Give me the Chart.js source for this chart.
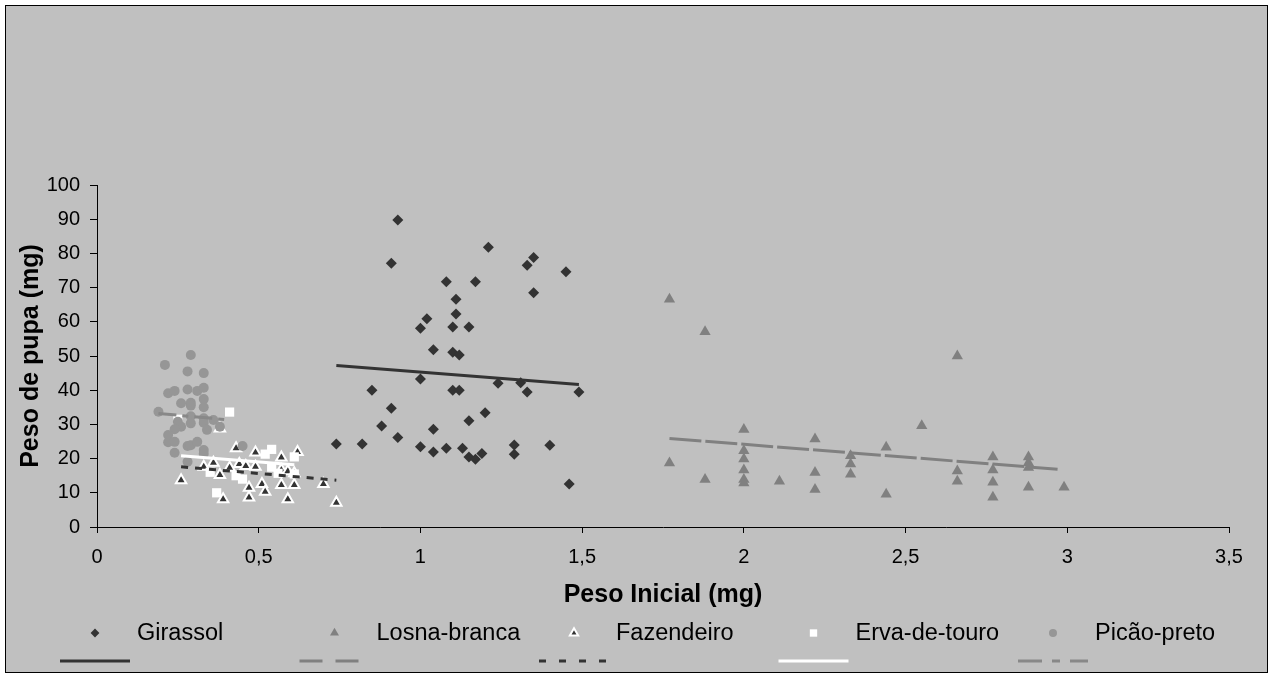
<!DOCTYPE html>
<html>
<head>
<meta charset="utf-8">
<title>Peso de pupa x Peso inicial</title>
<script src="https://cdn.jsdelivr.net/npm/chart.js@4/dist/chart.umd.min.js"></script>
<style>
  html, body { margin: 0; padding: 0; background: #fff; }
  canvas { display: block; }
</style>
</head>
<body>
<canvas id="chart" width="1272" height="679"></canvas>
<script>
// values (initial weight mg -> pupa weight mg)
const seriesNames = ['Girassol', 'Losna-branca', 'Fazendeiro', 'Erva-de-touro', 'Picão-preto'];
const xTickLabels = ['0', '0,5', '1', '1,5', '2', '2,5', '3', '3,5'];
const yTickLabels = ['0', '10', '20', '30', '40', '50', '60', '70', '80', '90', '100'];

const girassolX = [0.93,0.91,1.21,1.35,1.33,1.45,1.08,1.17,1.35,1.11,1.11,1.02,1.00,1.10,1.15,1.04,1.10,1.12,1.00,1.24,1.31,0.85,1.10,1.12,1.33,1.49,0.91,1.20,0.88,1.15,1.04,0.93,0.74,0.82,1.00,1.04,1.08,1.13,1.15,1.17,1.19,1.29,1.29,1.40,1.46];
const girassolY = [89.8,77.1,81.8,78.8,76.5,74.6,71.7,71.7,68.5,66.6,62.3,60.9,58.1,58.5,58.5,51.8,51.1,50.3,43.3,42.0,42.2,40.0,40.0,40.0,39.5,39.5,34.7,33.4,29.5,31.1,28.6,26.2,24.3,24.3,23.5,21.9,23.0,23.0,20.5,19.8,21.5,24.0,21.3,23.9,12.6];

const losnaX = [1.77,1.88,2.66,2.00,2.55,2.22,2.44,1.77,2.00,2.00,2.00,2.00,2.00,1.88,2.11,2.22,2.22,2.33,2.33,2.33,2.44,2.66,2.66,2.77,2.77,2.77,2.77,2.88,2.88,2.88,2.88,2.99];
const losnaY = [66.6,57.1,50.0,28.5,29.6,25.7,23.3,18.7,22.3,19.9,16.7,13.9,12.9,13.9,13.4,15.9,11.0,20.8,18.4,15.4,9.6,16.4,13.4,20.5,16.7,13.1,8.7,20.5,18.8,17.4,11.6,11.6];

const fazendeiroX = [0.43,0.49,0.57,0.62,0.36,0.33,0.41,0.44,0.46,0.49,0.38,0.26,0.39,0.47,0.47,0.51,0.52,0.57,0.61,0.59,0.57,0.59,0.61,0.70,0.74,0.38];
const fazendeiroY = [23.0,21.8,20.3,21.9,18.8,17.6,17.3,18.4,17.8,17.6,15.2,13.7,8.1,11.5,8.6,12.6,10.3,12.3,12.3,8.1,16.7,16.3,15.7,12.6,7.1,28.8];

const ervaX = [0.41,0.54,0.52,0.61,0.35,0.43,0.45,0.54,0.56,0.61,0.37,0.25];
const ervaY = [33.6,22.7,21.3,20.5,16.0,15.0,14.0,17.5,15.7,15.5,10.0,31.5];

const picaoX = [0.29,0.21,0.28,0.33,0.22,0.24,0.28,0.31,0.33,0.26,0.29,0.33,0.33,0.29,0.19,0.29,0.29,0.33,0.36,0.33,0.34,0.25,0.26,0.24,0.38,0.22,0.22,0.24,0.28,0.29,0.31,0.24,0.33,0.33,0.45,0.28];
const picaoY = [50.3,47.4,45.5,45.0,39.1,39.8,40.2,39.8,40.7,36.2,36.3,37.4,35.0,35.5,33.7,32.4,30.3,31.8,31.3,30.5,28.4,30.8,29.3,28.6,29.3,26.9,24.8,24.9,23.7,23.9,24.9,21.7,22.5,21.4,23.7,19.1];

// linear trend lines, ends as drawn in the original
const girassolTrendX = [0.74, 1.49],  girassolTrendY = [47.2, 41.7];
const losnaTrendX = [1.77, 2.97],     losnaTrendY = [25.9, 16.9];
const fazendeiroTrendX = [0.26, 0.74], fazendeiroTrendY = [17.6, 13.7];
const ervaTrendX = [0.26, 0.61],      ervaTrendY = [20.8, 18.2];
const picaoTrendX = [0.19, 0.41],     picaoTrendY = [33.2, 31.3];

const FONT = "'Liberation Sans', Arial, sans-serif";

function pts(xs, ys) {
  return xs.map((x, i) => ({ x: x, y: ys[i] }));
}

function series(i, xs, ys, style) {
  return Object.assign({
    label: seriesNames[i],
    data: pts(xs, ys),
    showLine: false,
    borderWidth: 0,
    order: 9 - i
  }, style);
}

function trend(i, xs, ys, color, dash, legendDash) {
  return {
    type: 'line',
    label: '',
    data: pts(xs, ys),
    showLine: true,
    fill: false,
    pointRadius: 0,
    borderColor: color,
    borderWidth: 3,
    borderDash: dash,
    legendDash: legendDash,
    order: 4 - i
  };
}

const datasets = [
  series(0, girassolX, girassolY, { pointStyle: 'rectRot', pointRadius: 5.5, backgroundColor: '#333333', borderColor: '#333333' }),
  series(1, losnaX, losnaY, { pointStyle: 'triangle', pointRadius: 6.5, backgroundColor: '#808080', borderColor: '#808080' }),
  series(2, fazendeiroX, fazendeiroY, { pointStyle: 'triangle', pointRadius: 6, backgroundColor: '#333333', borderColor: '#ffffff', borderWidth: 2 }),
  series(3, ervaX, ervaY, { pointStyle: 'rect', pointRadius: 6.5, backgroundColor: '#ffffff', borderColor: '#ffffff' }),
  series(4, picaoX, picaoY, { pointStyle: 'circle', pointRadius: 5, backgroundColor: '#969696', borderColor: '#969696' }),
  trend(0, girassolTrendX, girassolTrendY, '#333333', [], []),
  trend(1, losnaTrendX, losnaTrendY, '#808080', [32, 4], [23, 13]),
  trend(2, fazendeiroTrendX, fazendeiroTrendY, '#333333', [7, 7], [7, 13]),
  trend(3, ervaTrendX, ervaTrendY, '#ffffff', [], []),
  trend(4, picaoTrendX, picaoTrendY, '#888888', [18, 6, 6, 6], [24, 10, 8, 10])
];

// grey chart panel with thin black frame
const panel = {
  id: 'panel',
  beforeDraw(chart) {
    const c = chart.ctx;
    c.save();
    c.fillStyle = '#ffffff';
    c.fillRect(0, 0, chart.width, chart.height);
    c.fillStyle = '#c0c0c0';
    c.fillRect(5.5, 5.5, 1262, 667);
    c.strokeStyle = '#000000';
    c.lineWidth = 1;
    c.strokeRect(5.5, 5.5, 1262, 667);
    c.restore();
  }
};

// two-row legend: markers with names, then the trend line samples
const legendRows = {
  id: 'legendRows',
  afterDraw(chart) {
    const c = chart.ctx;
    const sets = chart.data.datasets;
    c.save();
    c.font = '23.5px ' + FONT;
    c.textBaseline = 'middle';
    c.textAlign = 'left';
    for (let i = 0; i < seriesNames.length; i++) {
      const mx = 95 + i * 239.5;
      const s = sets[i];
      c.fillStyle = s.backgroundColor;
      c.strokeStyle = s.borderColor;
      c.lineWidth = s.borderWidth;
      Chart.helpers.drawPoint(c, {
        pointStyle: s.pointStyle,
        radius: s.pointRadius * 0.8,
        rotation: 0,
        borderWidth: s.borderWidth
      }, mx, 633);
      c.fillStyle = '#000000';
      c.fillText(seriesNames[i], mx + 42, 634);

      const t = sets[5 + i];
      c.strokeStyle = t.borderColor;
      c.lineWidth = 3;
      c.setLineDash(t.legendDash);
      c.beginPath();
      c.moveTo(mx - 35, 661);
      c.lineTo(mx + 35, 661);
      c.stroke();
      c.setLineDash([]);
    }
    c.restore();
  }
};

new Chart(document.getElementById('chart'), {
  type: 'scatter',
  data: { datasets: datasets },
  options: {
    responsive: false,
    animation: false,
    layout: { padding: { top: 185, right: 43, bottom: 60, left: 0 } },
    plugins: {
      legend: { display: false },
      tooltip: { enabled: false }
    },
    scales: {
      x: {
        type: 'linear',
        min: 0,
        max: 3.5,
        ticks: {
          stepSize: 0.5,
          autoSkip: false,
          maxRotation: 0,
          padding: 12,
          color: '#000',
          font: { family: FONT, size: 20 },
          callback: (v, i) => xTickLabels[i]
        },
        grid: { drawOnChartArea: false, drawTicks: true, tickLength: 6, color: '#000' },
        border: { color: '#000', width: 1 },
        title: {
          display: true,
          text: 'Peso Inicial (mg)',
          color: '#000',
          font: { family: FONT, size: 25, weight: 'bold' },
          padding: { top: 0, bottom: 9 }
        },
        afterFit: s => { s.height = 92; }
      },
      y: {
        type: 'linear',
        min: 0,
        max: 100,
        ticks: {
          stepSize: 10,
          autoSkip: false,
          padding: 10,
          color: '#000',
          font: { family: FONT, size: 20 },
          callback: (v, i) => yTickLabels[i]
        },
        grid: { drawOnChartArea: false, drawTicks: true, tickLength: 7, color: '#000' },
        border: { color: '#000', width: 1 },
        title: {
          display: true,
          text: 'Peso de pupa (mg)',
          color: '#000',
          font: { family: FONT, size: 25, weight: 'bold' },
          padding: { top: 16, bottom: 0 }
        },
        afterFit: s => { s.width = 97; }
      }
    }
  },
  plugins: [panel, legendRows]
});
</script>
</body>
</html>
